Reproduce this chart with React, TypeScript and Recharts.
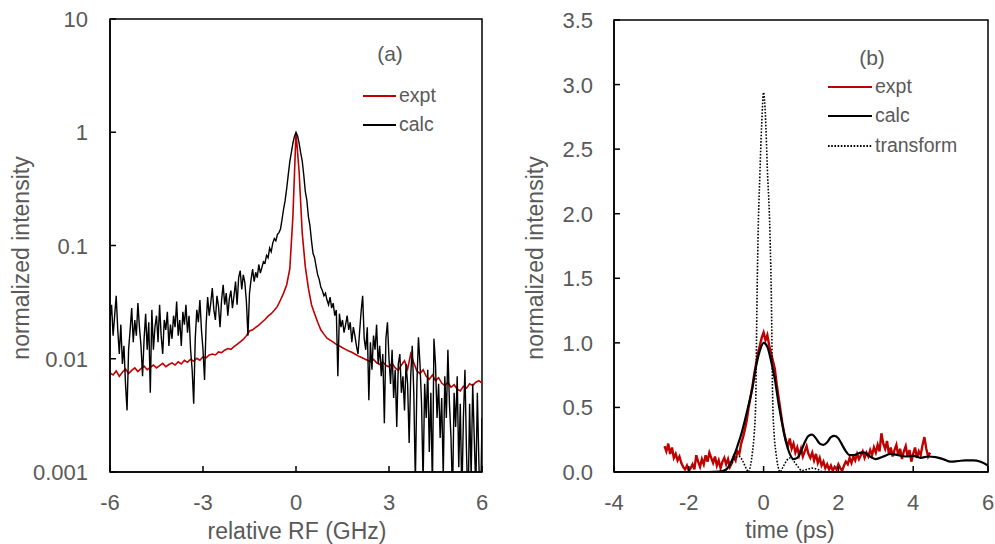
import React from 'react';
import { LineChart, Line, XAxis, YAxis, ReferenceArea } from 'recharts';

const FONT = '"Liberation Sans", Arial, Helvetica, sans-serif';
const TEXT = '#595959';
const RED = '#C00000';

// (a) RF spectrum, relative RF in GHz, log intensity
const rfTicks = [-6, -3, 0, 3, 6];
const rfIntensityTicks = [0.001, 0.01, 0.1, 1, 10];
const RF_START = -6;
const RF_CALC_STEP = 0.05;
const rfCalc = [
  0.022, 0.030, 0.016, 0.024, 0.036, 0.018, 0.011, 0.020, 0.009, 0.013, 0.006, 0.0035, 0.012, 0.018, 0.028, 0.014, 0.022, 0.016, 0.031, 0.019,
  0.013, 0.007, 0.015, 0.025, 0.012, 0.021, 0.005, 0.027, 0.012, 0.019, 0.024, 0.014, 0.030, 0.016, 0.011, 0.022, 0.018, 0.026, 0.013, 0.020,
  0.015, 0.024, 0.019, 0.032, 0.016, 0.022, 0.013, 0.026, 0.020, 0.030, 0.017, 0.024, 0.012, 0.008, 0.004, 0.015, 0.027, 0.021, 0.033, 0.018,
  0.012, 0.0065, 0.020, 0.035, 0.024, 0.031, 0.042, 0.027, 0.022, 0.036, 0.029, 0.019, 0.033, 0.045, 0.030, 0.038, 0.024, 0.034, 0.040, 0.028,
  0.036, 0.048, 0.030, 0.052, 0.060, 0.041, 0.055, 0.047, 0.032, 0.016, 0.038, 0.050, 0.062, 0.048, 0.058, 0.052, 0.068, 0.057, 0.064, 0.072,
  0.070, 0.082, 0.078, 0.095, 0.088, 0.105, 0.115, 0.110, 0.125, 0.13, 0.14, 0.17, 0.21, 0.25, 0.32, 0.42, 0.55, 0.66, 0.80, 0.92,
  1.0, 0.93, 0.80, 0.66, 0.56, 0.42, 0.30, 0.25, 0.18, 0.15, 0.11, 0.085, 0.078, 0.065, 0.055, 0.050, 0.043, 0.040, 0.036, 0.038,
  0.033, 0.030, 0.035, 0.028, 0.031, 0.024, 0.027, 0.007, 0.025, 0.019, 0.022, 0.017, 0.020, 0.024, 0.018, 0.021, 0.014, 0.019, 0.016, 0.013,
  0.011, 0.017, 0.026, 0.036, 0.015, 0.012, 0.019, 0.0043, 0.014, 0.008, 0.016, 0.012, 0.020, 0.009, 0.013, 0.007, 0.011, 0.0027, 0.015, 0.021,
  0.010, 0.006, 0.012, 0.0045, 0.008, 0.0025, 0.009, 0.011, 0.005, 0.007, 0.0035, 0.009, 0.006, 0.0018, 0.007, 0.013, 0.005, 0.0008, 0.006, 0.0155,
  0.009, 0.004, 0.0008, 0.006, 0.003, 0.008, 0.0015, 0.005, 0.0007, 0.015, 0.009, 0.003, 0.006, 0.002, 0.0045, 0.0009, 0.007, 0.003, 0.012, 0.004,
  0.002, 0.0006, 0.005, 0.0025, 0.007, 0.0011, 0.004, 0.0006, 0.003, 0.008, 0.0015, 0.0005, 0.004, 0.0009, 0.006, 0.002, 0.0007, 0.005, 0.0012, 0.0004, 0.003,
];
const RF_EXPT_STEP = 0.1;
const rfExpt = [
  0.0075, 0.0072, 0.0078, 0.0070, 0.0076, 0.0081, 0.0074, 0.0079, 0.0083, 0.0077,
  0.0082, 0.0086, 0.0080, 0.0084, 0.0088, 0.0083, 0.0087, 0.0091, 0.0085, 0.0089,
  0.0092, 0.0088, 0.0094, 0.0090, 0.0097, 0.0093, 0.0099, 0.0095, 0.0101, 0.0097,
  0.0104, 0.0102, 0.0108, 0.0110, 0.0108, 0.0115, 0.0113, 0.0119, 0.0123, 0.0121,
  0.0128, 0.0134, 0.0141, 0.0148, 0.0160, 0.0176, 0.0180, 0.0189, 0.0198, 0.0210,
  0.0222, 0.0238, 0.0250, 0.0268, 0.0290, 0.0330, 0.0380, 0.0450, 0.0620, 0.180,
  1.0, 0.45, 0.13, 0.065, 0.042, 0.030, 0.025, 0.021, 0.018, 0.0165,
  0.0152, 0.0146, 0.0140, 0.0134, 0.0130, 0.0125, 0.0121, 0.0117, 0.0114, 0.0110,
  0.0106, 0.0103, 0.0100, 0.0097, 0.0094, 0.0099, 0.0092, 0.0089, 0.0094, 0.0087,
  0.0085, 0.0091, 0.0083, 0.0079, 0.0088, 0.0096, 0.0081, 0.0110, 0.0092, 0.0078,
  0.0074, 0.0080, 0.0070, 0.0066, 0.0072, 0.0064, 0.0068, 0.0061, 0.0058, 0.0062,
  0.0056, 0.0059, 0.0054, 0.0052, 0.0057, 0.0055, 0.0060, 0.0058, 0.0062, 0.0064, 0.0061,
];

// (b) time domain, ps
const timeTicks = [-4, -2, 0, 2, 4, 6];
const timeIntensityTicks = [0, 0.5, 1, 1.5, 2, 2.5, 3, 3.5];
const TIME_EXPT_START = -2.65;
const TIME_EXPT_STEP = 0.05;
const timeExpt = [
  0.20, 0.16, 0.22, 0.14, 0.19, 0.11, 0.14, 0.09, 0.12, 0.07,
  0.04, 0.02, 0.05, 0.01, 0.03, 0.06, 0.02, 0.13, 0.08, 0.04,
  0.10, 0.06, 0.13, 0.08, 0.15, 0.11, 0.07, 0.12, 0.05, 0.09,
  0.03, 0.08, 0.11, 0.06, 0.10, 0.04, 0.07, 0.12, 0.09, 0.16,
  0.14, 0.22, 0.27, 0.33, 0.40, 0.50, 0.58, 0.66, 0.76, 0.84,
  0.92, 0.98, 1.04, 1.08, 1.02, 1.06, 0.98, 0.92, 0.86, 0.80,
  0.68, 0.58, 0.48, 0.38, 0.30, 0.24, 0.20, 0.26, 0.18, 0.22,
  0.15, 0.19, 0.13, 0.18, 0.12, 0.16, 0.20, 0.14, 0.11, 0.15,
  0.09, 0.14, 0.07, 0.11, 0.05, 0.08, 0.03, 0.06, 0.02, 0.05,
  0.01, 0.04, 0.02, 0.06, 0.03, 0.01, 0.05, 0.08, 0.06, 0.11,
  0.07, 0.12, 0.09, 0.14, 0.10, 0.13, 0.16, 0.11, 0.15, 0.12,
  0.17, 0.13, 0.19, 0.15, 0.21, 0.16, 0.30, 0.22, 0.18, 0.24,
  0.14, 0.19, 0.12, 0.17, 0.21, 0.13, 0.18, 0.10, 0.16, 0.20,
  0.12, 0.17, 0.08, 0.14, 0.19, 0.11, 0.16, 0.13, 0.21, 0.27,
  0.18, 0.12, 0.15,
];
const timeCalcX = [
  -4, -3, -2, -1.5, -1.2, -1.0, -0.9, -0.8, -0.7, -0.6, -0.5, -0.4, -0.3, -0.2, -0.1, 0,
  0.1, 0.2, 0.3, 0.4, 0.5, 0.6, 0.7, 0.8, 0.9, 1.0, 1.1, 1.2, 1.3, 1.4, 1.5, 1.6, 1.7, 1.8, 1.9, 2.0,
  2.1, 2.2, 2.3, 2.4, 2.5, 2.6, 2.7, 2.8, 2.9, 3.0, 3.2, 3.4, 3.6, 3.8, 4.0, 4.2, 4.4, 4.6, 4.8, 5.0,
  5.2, 5.4, 5.6, 5.8, 6.0,
];
const timeCalc = [
  0, 0, 0, 0, 0.003, 0.02, 0.06, 0.12, 0.20, 0.29, 0.40, 0.52, 0.65, 0.82, 0.94, 1.0,
  0.97, 0.86, 0.72, 0.53, 0.37, 0.23, 0.14, 0.10, 0.11, 0.16, 0.23, 0.28, 0.29, 0.26, 0.22, 0.21, 0.23, 0.27, 0.28, 0.26,
  0.21, 0.16, 0.13, 0.13, 0.14, 0.15, 0.15, 0.13, 0.11, 0.10, 0.12, 0.14, 0.13, 0.12, 0.125, 0.11, 0.12, 0.115, 0.10, 0.08,
  0.085, 0.09, 0.09, 0.08, 0.05,
];
const transformX = [
  -4, -1.5, -1.1, -0.95, -0.85, -0.75, -0.65, -0.55, -0.47, -0.4,
  -0.35, -0.3, -0.25, -0.21, -0.18, -0.15, -0.1, -0.05, 0, 0.05,
  0.1, 0.17, 0.21, 0.24, 0.28, 0.33, 0.38, 0.44, 0.52, 0.62,
  0.72, 0.82, 0.92, 1.02, 1.15, 1.3, 1.45, 1.6, 6,
];
const transform = [
  0, 0, 0.005, 0.03, 0.07, 0.11, 0.12, 0.08, 0.03, 0,
  0.05, 0.15, 0.3, 0.55, 1.25, 1.8, 2.3, 2.7, 2.94, 2.75,
  2.35, 1.85, 1.3, 0.6, 0.3, 0.15, 0.05, 0, 0.04, 0.09,
  0.11, 0.08, 0.04, 0.01, 0.02, 0.03, 0.02, 0, 0,
];

const onGrid = (start: number, step: number, values: number[]) =>
  values.map((y, i) => ({ x: Math.round((start + i * step) * 100) / 100, y }));
const paired = (xs: number[], ys: number[]) => xs.map((x, i) => ({ x, y: ys[i] }));

const rfCalcData = onGrid(RF_START, RF_CALC_STEP, rfCalc);
const rfExptData = onGrid(RF_START, RF_EXPT_STEP, rfExpt);
const timeExptData = onGrid(TIME_EXPT_START, TIME_EXPT_STEP, timeExpt);
const timeCalcData = paired(timeCalcX, timeCalc);
const transformData = paired(transformX, transform);

const blackLine = { stroke: '#000', strokeWidth: 1.5 };
const TICK_FONT = 22;

// tick label + inward tick mark, drawn at the axis position (tickSize 0, tickMargin 0)
// eslint-disable-next-line @typescript-eslint/no-explicit-any
const BottomTick = (props: any) => {
  const { x, y, payload } = props;
  return (
    <g>
      <line x1={x} x2={x} y1={y} y2={y - 6} stroke="#000" strokeWidth={1.5} />
      <text x={x} y={y + 38} textAnchor="middle" fill={TEXT} fontSize={TICK_FONT} fontFamily={FONT}>
        {String(payload.value)}
      </text>
    </g>
  );
};

// eslint-disable-next-line @typescript-eslint/no-explicit-any
const makeLeftTick = (gap: number, fmt: (v: number) => string) => (props: any) => {
  const { x, y, payload } = props;
  return (
    <g>
      <line x1={x} x2={x + 6} y1={y} y2={y} stroke="#000" strokeWidth={1.5} />
      <text x={x - gap} y={y + 8} textAnchor="end" fill={TEXT} fontSize={TICK_FONT} fontFamily={FONT}>
        {fmt(payload.value)}
      </text>
    </g>
  );
};

const LogTick = makeLeftTick(22, (v) => String(v));
const LinTick = makeLeftTick(21, (v) => v.toFixed(1));

const abs = (left: number, top: number): React.CSSProperties => ({
  position: 'absolute',
  left,
  top,
  fontFamily: FONT,
  color: TEXT,
  whiteSpace: 'nowrap',
  lineHeight: 1,
});

function LegendRow({ x, y, label, color, width, dash }: { x: number; y: number; label: string; color: string; width: number; dash?: string }) {
  return (
    <div style={{ ...abs(x, y - 12), height: 24, display: 'flex', alignItems: 'center', fontSize: 19.5 }}>
      <svg width={width} height={24} style={{ display: 'block' }}>
        <line x1={0} x2={width} y1={12} y2={12} stroke={color} strokeWidth={dash ? 1.8 : 2.2} strokeDasharray={dash} />
      </svg>
      <span style={{ marginLeft: 3 }}>{label}</span>
    </div>
  );
}

function AxisTitle({ x, y, text, rotate }: { x: number; y: number; text: string; rotate?: boolean }) {
  return (
    <div
      style={{
        ...abs(x, y),
        fontSize: 23,
        transform: `translate(-50%, -50%)${rotate ? ' rotate(-90deg)' : ''}`,
      }}
    >
      {text}
    </div>
  );
}

export default function App() {
  return (
    <div style={{ position: 'absolute', left: 0, top: 0, width: 995, height: 544, background: '#fff', overflow: 'hidden' }}>
      <div style={{ position: 'absolute', left: 0, top: 0 }}>
        <LineChart width={500} height={544} margin={{ top: 19, right: 18, bottom: 71, left: 109 }}>
          <XAxis
            dataKey="x"
            type="number"
            domain={[-6, 6]}
            ticks={rfTicks}
            interval={0}
            height={1}
            tickSize={0}
            tickMargin={0}
            tick={<BottomTick />}
            axisLine={blackLine}
            tickLine={false}
            allowDataOverflow
          />
          <YAxis
            type="number"
            scale="log"
            domain={[0.001, 10]}
            ticks={rfIntensityTicks}
            interval={0}
            width={1}
            tickSize={0}
            tickMargin={0}
            tick={<LogTick />}
            axisLine={blackLine}
            tickLine={false}
            allowDataOverflow
          />
          <ReferenceArea x1={-6} x2={6} y1={0.001} y2={10} fill="none" stroke="#000" strokeWidth={1.5} />
          <Line data={rfExptData} dataKey="y" type="linear" dot={false} stroke={RED} strokeWidth={1.6} isAnimationActive={false} />
          <Line data={rfCalcData} dataKey="y" type="linear" dot={false} stroke="#000" strokeWidth={1.4} isAnimationActive={false} />
        </LineChart>
      </div>

      <div style={{ position: 'absolute', left: 500, top: 0 }}>
        <LineChart width={495} height={544} margin={{ top: 20, right: 7, bottom: 71, left: 113 }}>
          <XAxis
            dataKey="x"
            type="number"
            domain={[-4, 6]}
            ticks={timeTicks}
            interval={0}
            height={1}
            tickSize={0}
            tickMargin={0}
            tick={<BottomTick />}
            axisLine={blackLine}
            tickLine={false}
            allowDataOverflow
          />
          <YAxis
            type="number"
            domain={[0, 3.5]}
            ticks={timeIntensityTicks}
            interval={0}
            width={1}
            tickSize={0}
            tickMargin={0}
            tick={<LinTick />}
            axisLine={blackLine}
            tickLine={false}
            allowDataOverflow
          />
          <ReferenceArea x1={-4} x2={6} y1={0} y2={3.5} fill="none" stroke="#000" strokeWidth={1.5} />
          <Line data={timeExptData} dataKey="y" type="linear" dot={false} stroke={RED} strokeWidth={2.4} isAnimationActive={false} />
          <Line data={timeCalcData} dataKey="y" type="monotone" dot={false} stroke="#000" strokeWidth={2.2} isAnimationActive={false} />
          <Line data={transformData} dataKey="y" type="monotone" dot={false} stroke="#000" strokeWidth={1.6} strokeDasharray="1.6 1.6" isAnimationActive={false} />
        </LineChart>
      </div>

      <AxisTitle x={21} y={258} text="normalized intensity" rotate />
      <AxisTitle x={535} y={258} text="normalized intensity" rotate />
      <AxisTitle x={297} y={531} text="relative RF (GHz)" />
      <AxisTitle x={790} y={530} text="time (ps)" />

      <div style={{ ...abs(390, 53), fontSize: 21, transform: 'translate(-50%, -50%)' }}>(a)</div>
      <LegendRow x={363} y={96} label="expt" color={RED} width={33} />
      <LegendRow x={363} y={125} label="calc" color="#000" width={33} />

      <div style={{ ...abs(872, 57), fontSize: 21, transform: 'translate(-50%, -50%)' }}>(b)</div>
      <LegendRow x={828} y={87} label="expt" color={RED} width={44} />
      <LegendRow x={828} y={116} label="calc" color="#000" width={44} />
      <LegendRow x={828} y={146} label="transform" color="#000" width={44} dash="1.6 1.6" />
    </div>
  );
}
